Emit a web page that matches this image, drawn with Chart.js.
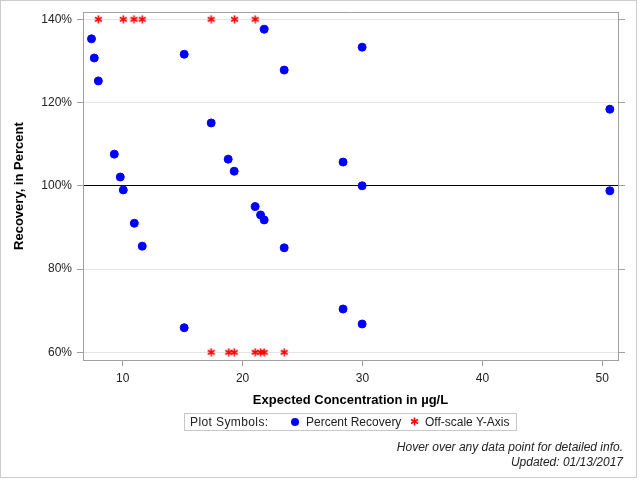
<!DOCTYPE html>
<html lang="en">
<head>
<meta charset="UTF-8">
<title>Percent Recovery</title>
<script src="https://cdn.jsdelivr.net/npm/chart.js"></script>
<style>
    body { margin: 0; background: #fff; font-family: "Liberation Sans", Arial, sans-serif; }
    #wrap { position: relative; width: 640px; height: 480px; }
    #legend {
        position: absolute; left: 184px; top: 413px; width: 331px; height: 16px;
        border: 1px solid #c8c8c8; font-size: 12px; color: #222;
    }
    #legend span, #legend canvas { position: absolute; }
    #legend .txt { top: 1px; line-height: 14px; white-space: nowrap; }
    #legend .dot { left: 106px; top: 4px; width: 8px; height: 8px; border-radius: 50%; background: #0000ff; }
    #legend canvas { left: 225px; top: 3px; }
    .note { position: absolute; right: 17px; font-size: 12px; font-style: italic; color: #222; line-height: 14px; white-space: nowrap; }
</style>
</head>
<body>
<div id="wrap">
    <canvas id="myChart" width="640" height="480"></canvas>
    <div id="legend">
        <span class="txt" style="left:5px; letter-spacing:0.4px">Plot Symbols:</span>
        <span class="dot"></span>
        <span class="txt" style="left:121px">Percent Recovery</span>
        <span class="txt" style="left:240px">Off-scale Y-Axis</span>
    </div>
    <div class="note" style="top:440px">Hover over any data point for detailed info.</div>
    <div class="note" style="top:455px">Updated: 01/13/2017</div>
</div>
<script>
    // valores
    var recX = [7.4, 7.63, 7.97, 9.3, 9.8, 10.05, 10.97, 11.63, 15.13, 15.13, 17.38, 18.8, 19.3,
                21.05, 21.5, 21.8, 21.8, 23.47, 23.47, 28.38, 28.38, 29.97, 29.97, 29.97, 50.63, 50.63];
    var recY = [135.3, 130.7, 125.2, 107.6, 102.1, 99.0, 91.0, 85.5, 131.6, 65.9, 115.1, 106.4, 103.5,
                95.0, 93.0, 91.8, 137.6, 127.8, 85.1, 105.7, 70.4, 133.3, 100.0, 66.8, 118.4, 98.8];
    var offX = [7.97, 10.05, 10.94, 11.63, 17.38, 19.33, 21.05,
                17.38, 18.85, 19.3, 21.05, 21.5, 21.8, 23.47];
    var offY = [140, 140, 140, 140, 140, 140, 140,
                60, 60, 60, 60, 60, 60, 60];
    var yTicks = [60, 80, 100, 120, 140];
    var xTicks = [10, 20, 30, 40, 50];

    function pontos(xs, ys) {
        return xs.map(function (x, i) { return { x: x, y: ys[i] }; });
    }

    // asterisco de 6 pontas
    function asterisco() {
        var c = document.createElement('canvas');
        c.width = 9; c.height = 9;
        var g = c.getContext('2d');
        g.strokeStyle = '#ff0000';
        g.lineWidth = 1.6;
        [90, 30, 150].forEach(function (a) {
            var r = a * Math.PI / 180, dx = 4 * Math.cos(r), dy = 4 * Math.sin(r);
            g.beginPath();
            g.moveTo(4.5 - dx, 4.5 - dy);
            g.lineTo(4.5 + dx, 4.5 + dy);
            g.stroke();
        });
        return c;
    }
    var star = asterisco();
    document.getElementById('legend').appendChild(asterisco());

    const moldura = {
        id: 'moldura',
        afterDraw(chart) {
            const ctx = chart.ctx, a = chart.chartArea;
            ctx.save();
            ctx.strokeStyle = '#a0a0a0';
            ctx.lineWidth = 1;
            ctx.beginPath();
            ctx.moveTo(a.left, Math.round(a.top) + 0.5);
            ctx.lineTo(a.right, Math.round(a.top) + 0.5);
            ctx.stroke();
            ctx.strokeStyle = '#cccccc';
            ctx.strokeRect(0.5, 0.5, 636, 477);
            ctx.restore();
        }
    };

    Chart.defaults.font.family = '"Liberation Sans", Arial, sans-serif';
    Chart.defaults.font.size = 12;
    Chart.defaults.color = '#222';

    const data = {
        datasets: [{
            label: 'Percent Recovery',
            data: pontos(recX, recY),
            pointStyle: 'circle',
            pointRadius: 4,
            pointHoverRadius: 5,
            backgroundColor: '#0000ff',
            borderColor: '#0000ff',
            borderWidth: 1
        }, {
            label: 'Off-scale Y-Axis',
            data: pontos(offX, offY),
            pointStyle: star,
            backgroundColor: '#ff0000',
            borderColor: '#ff0000'
        }]
    };

    const config = {
        type: 'scatter',
        data: data,
        plugins: [moldura],
        options: {
            responsive: false,
            animation: false,
            layout: { padding: { top: 12, right: 15, bottom: 70, left: 0 } },
            plugins: { legend: { display: false } },
            scales: {
                x: {
                    type: 'linear', position: 'bottom', min: 6.69, max: 51.31,
                    afterBuildTicks: function (s) { s.ticks = xTicks.map(function (v) { return { value: v }; }); },
                    ticks: { padding: 5 },
                    grid: { drawOnChartArea: false, tickLength: 6, color: '#a0a0a0' },
                    border: { color: '#a0a0a0' },
                    title: { display: true, text: 'Expected Concentration in µg/L', font: { size: 13, weight: 'bold' }, color: '#000', padding: { top: 4, bottom: 2 } },
                    afterFit: function (s) { s.height = 50; }
                },
                y: {
                    type: 'linear', position: 'left', min: 58.15, max: 141.7,
                    afterBuildTicks: function (s) { s.ticks = yTicks.map(function (v) { return { value: v }; }); },
                    ticks: { padding: 5, callback: function (v) { return v + '%'; } },
                    grid: {
                        color: function (c) { return c.tick && c.tick.value === 100 ? '#000000' : '#e4e4e4'; },
                        tickColor: '#a0a0a0', tickLength: 6
                    },
                    border: { color: '#a0a0a0' },
                    title: { display: true, text: 'Recovery, in Percent', font: { size: 13, weight: 'bold' }, color: '#000', padding: { top: 12, bottom: 4 } },
                    afterFit: function (s) { s.width = 83; }
                },
                y2: {
                    type: 'linear', position: 'right', min: 58.15, max: 141.7,
                    afterBuildTicks: function (s) { s.ticks = yTicks.map(function (v) { return { value: v }; }); },
                    ticks: { display: false },
                    grid: { drawOnChartArea: false, tickLength: 7, color: '#a0a0a0' },
                    border: { color: '#a0a0a0' },
                    afterFit: function (s) { s.width = 7; }
                }
            }
        }
    };
    const myChart = new Chart(document.getElementById('myChart'), config);
</script>
</body>
</html>
